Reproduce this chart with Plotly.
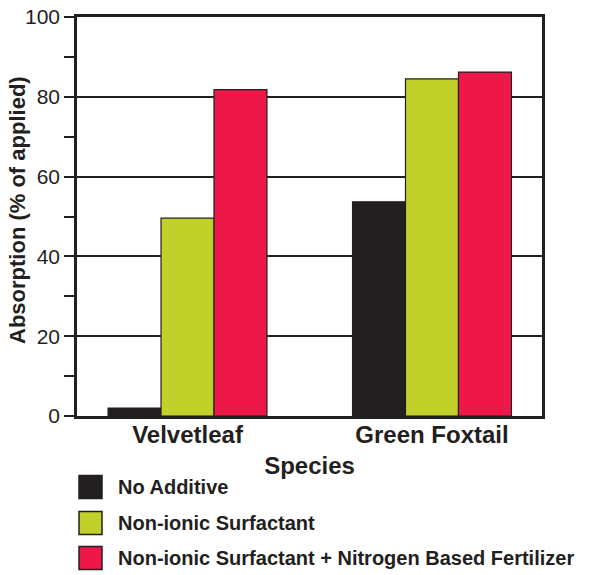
import plotly.graph_objects as go

species = ["Velvetleaf", "Green Foxtail"]
treatments = ["No Additive", "Non-ionic Surfactant", "Non-ionic Surfactant + Nitrogen Based Fertilizer"]
no_additive = [2.0, 53.7]
surfactant = [49.6, 84.5]
surf_fert = [81.8, 86.2]
colors = ["#231f20", "#c2d02a", "#ed1848"]
yticks = [0, 20, 40, 60, 80, 100]
y_title = "Absorption (% of applied)"
x_title = "Species"

series = [no_additive, surfactant, surf_fert]
dark = "#231f20"
FONT = "Liberation Sans, Arial, sans-serif"

fig = go.Figure()
for name, vals, col in zip(treatments, series, colors):
    fig.add_trace(go.Bar(
        x=list(range(len(species))), y=vals, name=name,
        marker=dict(color=col, line=dict(color=dark, width=1.2)),
        showlegend=False,
    ))

W, H = 611, 575
L, R, T, B = 77, 542, 17, 416

def px2paper_x(px):
    return (px - L) / (R - L)

def px2paper_y(py):
    return (B - py) / (B - T)

shapes = []
annotations = []
rows = [487, 523, 558]
for name, col, yc in zip(treatments, colors, rows):
    shapes.append(dict(
        type="rect", xref="paper", yref="paper",
        x0=px2paper_x(79), x1=px2paper_x(102),
        y0=px2paper_y(yc + 11.5), y1=px2paper_y(yc - 11.5),
        fillcolor=col, line=dict(color=dark if col != dark else col, width=1.5),
    ))
    annotations.append(dict(
        xref="paper", yref="paper", x=px2paper_x(116), y=px2paper_y(yc),
        xanchor="left", yanchor="middle", showarrow=False,
        text="<b>%s</b>" % name, font=dict(family=FONT, size=20, color=dark),
    ))

# y-axis title, placed as rotated text
annotations.append(dict(
    xref="paper", yref="paper", x=px2paper_x(17), y=px2paper_y(210),
    xanchor="center", yanchor="middle", showarrow=False, textangle=-90,
    text="<b>%s</b>" % y_title, font=dict(family=FONT, size=22, color=dark),
))

fig.update_layout(
    width=W, height=H,
    margin=dict(l=L, r=W - R, t=T, b=H - B, pad=0, autoexpand=False),
    plot_bgcolor="white", paper_bgcolor="white",
    barmode="group", bargap=0.35, bargroupgap=0,
    font=dict(family=FONT, color=dark),
    shapes=shapes, annotations=annotations,
    xaxis=dict(
        range=[-0.452, 1.45], tickvals=[0, 1], ticktext=["<b>%s</b>" % s for s in species],
        tickfont=dict(size=24, color=dark), ticks="", ticklabelstandoff=-5,
        showgrid=False, zeroline=False,
        showline=True, linecolor=dark, linewidth=2.5, mirror=True, automargin=False,
        title=dict(text="<b>%s</b>" % x_title, font=dict(size=24, color=dark), standoff=11),
    ),
    yaxis=dict(
        range=[0, 100], tickvals=yticks, tickfont=dict(size=21, color=dark),
        ticks="outside", ticklen=10, tickwidth=2, tickcolor=dark, automargin=False,
        showgrid=True, gridcolor=dark, gridwidth=2, zeroline=False,
        showline=True, linecolor=dark, linewidth=2.5, mirror=True,
        minor=dict(dtick=10, ticks="outside", ticklen=10, tickwidth=2, tickcolor=dark, showgrid=False),
    ),
)

# the page body has a default 8px margin; remove it so the figure fills the window
fig.write_html("out.html", config={"displayModeBar": False},
               post_script="document.body.style.margin='0';")
